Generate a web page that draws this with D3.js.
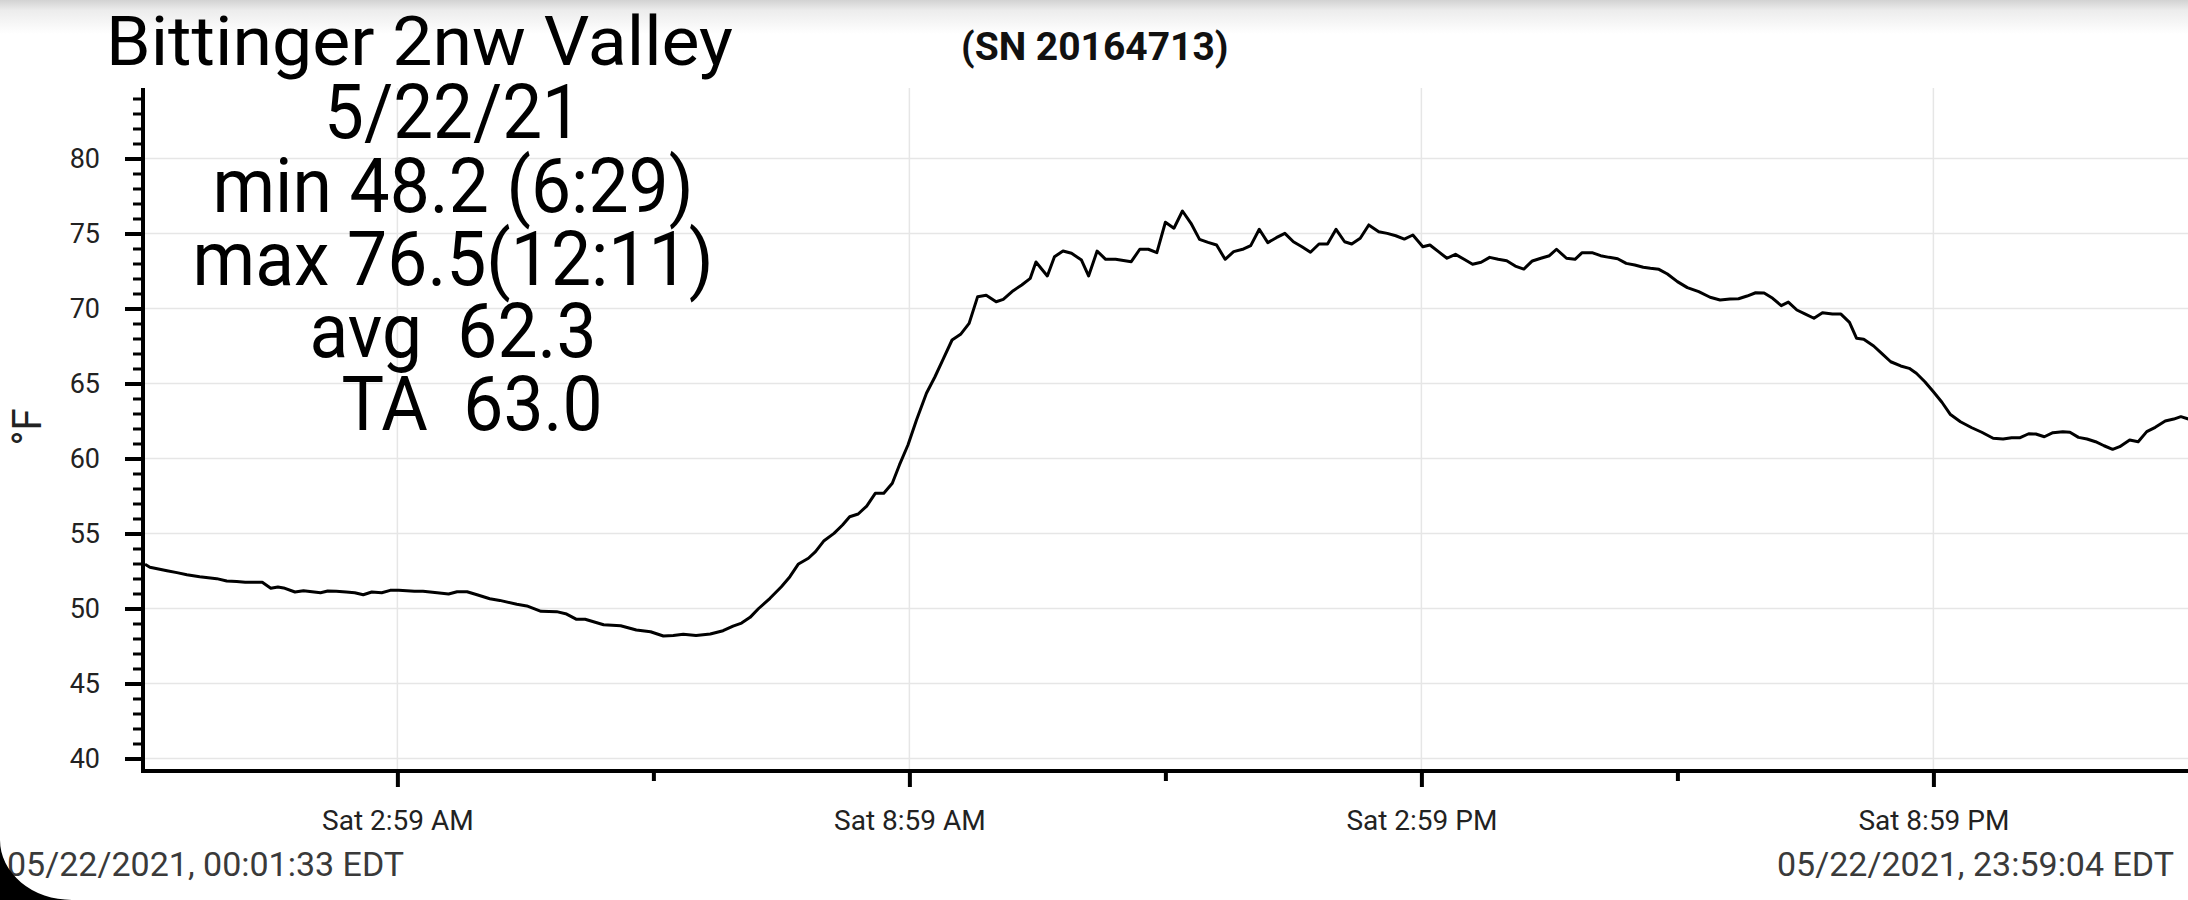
<!DOCTYPE html>
<html><head><meta charset="utf-8">
<script src="https://cdn.jsdelivr.net/npm/d3@7"></script>
<style>
html,body{margin:0;padding:0;background:#fff;overflow:hidden;}
svg{display:block;font-family:Roboto,"Noto Sans",sans-serif;}
</style></head><body>
<svg id="chart" width="2188" height="900"></svg>
<script>
// ---- data ----
const stationName = "Bittinger 2nw Valley";
const serialLabel = "(SN 20164713)";
const summaryLines = ["5/22/21", "min 48.2 (6:29)", "max 76.5(12:11)", "avg  62.3", "TA  63.0"];
const startLabel = "05/22/2021, 00:01:33 EDT";
const endLabel = "05/22/2021, 23:59:04 EDT";
const yAxisLabel = "°F";
const dayDate = "2021-05-22";
const startTime = "00:01:33";
const endTime = "23:59:04";

// minute of day of each reading
const minutes = [
  1.55,5,17,24,31,40,52,59,66,72,
  84,90,95,99,107,113,119,125,130,136,
  143,149,155,161,168,174,180,191,197,207,
  215,221,228,235,244,251,263,270,280,291,
  298,305,311,324,336,347,357,366,373,380,
  389,399,408,415,421,427,433,441,449,455,
  461,468,473,479,486,492,497,503,509,515,
  521,527,532,538,544,551,557,563,569,575,
  581,587,593,600,605,612,618,624,628,636,
  641,647,653,660,665,671,677,684,695,701,
  707,713,719,725,731,737,743,749,755,761,
  767,774,779,785,791,797,803,809,815,821,
  827,833,839,845,850,856,862,869,875,881,
  887,893,900,905,911,917,923,929,935,941,
  947,953,959,965,971,977,983,989,994,1001,
  1007,1012,1019,1025,1031,1037,1043,1049,1055,1060,
  1066,1072,1079,1086,1094,1102,1109,1116,1122,1128,
  1134,1140,1146,1152,1157,1163,1169,1175,1181,1188,
  1194,1200,1205,1210,1217,1223,1229,1236,1242,1247,
  1253,1259,1265,1271,1278,1286,1293,1301,1308,1314,
  1320,1326,1331,1337,1343,1350,1355,1361,1367,1373,
  1379,1385,1390,1397,1403,1409,1415,1422,1428,1433,
  1439.07
];
// temperature (°F) of each reading
const temps = [
  52.95,52.75,52.52,52.39,52.25,52.12,51.99,51.83,51.8,51.75,
  51.75,51.35,51.43,51.37,51.1,51.19,51.12,51.05,51.17,51.15,
  51.1,51.05,50.92,51.1,51.05,51.21,51.21,51.15,51.15,51.05,
  50.97,51.12,51.12,50.92,50.65,50.54,50.28,50.17,49.81,49.79,
  49.63,49.28,49.28,48.92,48.85,48.57,48.45,48.17,48.2,48.28,
  48.2,48.3,48.52,48.83,49.03,49.41,50.0,50.68,51.45,52.12,
  52.97,53.35,53.79,54.52,55.01,55.57,56.12,56.3,56.83,57.68,
  57.68,58.35,59.57,60.9,62.57,64.35,65.45,66.68,67.9,68.28,
  69.01,70.79,70.88,70.45,70.61,71.19,71.57,72.01,73.1,72.17,
  73.45,73.83,73.68,73.23,72.17,73.83,73.28,73.28,73.12,73.95,
  73.95,73.72,75.75,75.35,76.5,75.68,74.61,74.41,74.23,73.28,
  73.79,73.97,74.19,75.28,74.39,74.72,75.01,74.45,74.12,73.75,
  74.3,74.3,75.28,74.45,74.3,74.68,75.57,75.12,75.01,74.85,
  74.63,74.9,74.12,74.23,73.79,73.35,73.61,73.28,72.95,73.08,
  73.41,73.28,73.19,72.83,72.63,73.17,73.35,73.52,73.95,73.35,
  73.28,73.72,73.72,73.52,73.41,73.32,73.01,72.9,72.75,72.68,
  72.61,72.3,71.79,71.39,71.12,70.75,70.57,70.63,70.65,70.83,
  71.05,71.03,70.68,70.19,70.43,69.9,69.63,69.35,69.72,69.63,
  69.63,69.08,68.01,67.95,67.5,66.97,66.45,66.17,66.01,65.68,
  65.12,64.45,63.75,62.93,62.45,62.05,61.75,61.35,61.3,61.39,
  61.39,61.65,61.63,61.45,61.72,61.79,61.75,61.41,61.3,61.12,
  60.85,60.61,60.79,61.23,61.12,61.79,62.08,62.5,62.63,62.79,
  62.61
];

const yMajorTicks = [40, 45, 50, 55, 60, 65, 70, 75, 80];
const yMinorTicks = [41,42,43,44,46,47,48,49,51,52,53,54,56,57,58,59,61,62,63,64,66,67,68,69,71,72,73,74,76,77,78,79,81,82,83,84];
const xMajorTicks = ["02:59", "08:59", "14:59", "20:59"];
const xMinorTicks = ["05:59", "11:59", "17:59"];

// ---- drawing ----
const W = 2188, H = 900;
const svg = d3.select("#chart");
const parseFull = d3.timeParse("%Y-%m-%d %H:%M:%S");
const parseHM = d3.timeParse("%Y-%m-%d %H:%M");
const base = parseFull(dayDate + " 00:00:00");
const data = minutes.map((m, i) => ({ t: new Date(base.getTime() + m * 60000), v: temps[i] }));

const plotLeft = 145, plotTop = 88, axisY = 771, axisX = 143;
const x = d3.scaleTime()
  .domain([parseFull(dayDate + " " + startTime), parseFull(dayDate + " " + endTime)])
  .range([plotLeft, 2189.5]);
const y = d3.scaleLinear().domain([40, 80]).range([758.5, 158.5]);

const majorDates = xMajorTicks.map(s => parseHM(dayDate + " " + s));
const minorDates = xMinorTicks.map(s => parseHM(dayDate + " " + s));

// top shadow band
const defs = svg.append("defs");
const grad = defs.append("linearGradient").attr("id", "topShade").attr("x1", 0).attr("y1", 0).attr("x2", 0).attr("y2", 1);
grad.append("stop").attr("offset", "0").attr("stop-color", "#d2d2d2");
grad.append("stop").attr("offset", "0.3").attr("stop-color", "#ececec");
grad.append("stop").attr("offset", "1").attr("stop-color", "#ffffff");
svg.append("rect").attr("x", 0).attr("y", 0).attr("width", W).attr("height", 34).attr("fill", "url(#topShade)");

// grid
const grid = svg.append("g").attr("stroke", "#e6e6e6").attr("stroke-width", 1.5);
grid.selectAll("line.h").data(yMajorTicks).join("line").attr("class", "h")
  .attr("x1", plotLeft).attr("x2", W).attr("y1", d => y(d)).attr("y2", d => y(d));
grid.selectAll("line.v").data(majorDates).join("line").attr("class", "v")
  .attr("x1", d => x(d)).attr("x2", d => x(d)).attr("y1", plotTop).attr("y2", axisY);

// data line
svg.append("path").datum(data)
  .attr("fill", "none").attr("stroke", "#000").attr("stroke-width", 3)
  .attr("stroke-linejoin", "round")
  .attr("d", d3.line().x(d => x(d.t)).y(d => y(d.v)));

// y axis
const yMinor = svg.append("g").attr("transform", `translate(${axisX},0)`)
  .call(d3.axisLeft(y).tickValues(yMinorTicks).tickSize(10).tickFormat(""));
yMinor.select(".domain").remove();
yMinor.selectAll(".tick line").attr("stroke", "#000").attr("stroke-width", 3);

const yMajor = svg.append("g").attr("transform", `translate(${axisX},0)`)
  .call(d3.axisLeft(y).tickValues(yMajorTicks).tickSize(18).tickPadding(25));
yMajor.select(".domain").remove();
yMajor.selectAll(".tick line").attr("stroke", "#000").attr("stroke-width", 4);
yMajor.selectAll(".tick text").attr("font-size", 27).attr("fill", "#222")
  .attr("font-family", "Roboto, sans-serif");

svg.append("line").attr("x1", axisX).attr("x2", axisX).attr("y1", plotTop).attr("y2", axisY + 2)
  .attr("stroke", "#000").attr("stroke-width", 4);

// x axis
const xMinor = svg.append("g").attr("transform", `translate(0,${axisY})`)
  .call(d3.axisBottom(x).tickValues(minorDates).tickSize(10).tickFormat(""));
xMinor.select(".domain").remove();
xMinor.selectAll(".tick line").attr("stroke", "#000").attr("stroke-width", 4);

const xMajor = svg.append("g").attr("transform", `translate(0,${axisY})`)
  .call(d3.axisBottom(x).tickValues(majorDates).tickSize(16).tickPadding(23)
    .tickFormat(d3.timeFormat("%a %-I:%M %p")));
xMajor.select(".domain").remove();
xMajor.selectAll(".tick line").attr("stroke", "#000").attr("stroke-width", 4);
xMajor.selectAll(".tick text").attr("font-size", 28).attr("fill", "#222")
  .attr("font-family", "Roboto, sans-serif");

svg.append("line").attr("x1", axisX - 2).attr("x2", W).attr("y1", axisY).attr("y2", axisY)
  .attr("stroke", "#000").attr("stroke-width", 4);

// y axis title
svg.append("text").attr("transform", "translate(41,427) rotate(-90)")
  .attr("text-anchor", "middle").attr("font-size", 40).attr("fill", "#222").text(yAxisLabel);

// title and summary
svg.append("text").attr("x", 106).attr("y", 65).attr("font-size", 68).attr("fill", "#000")
  .attr("textLength", 627).attr("lengthAdjust", "spacingAndGlyphs").text(stationName);
svg.append("text").attr("x", 961).attr("y", 60).attr("font-size", 39).attr("font-weight", "bold")
  .attr("fill", "#111").text(serialLabel);

const summaryX = [453, 453, 453, 453, 472];
const summaryY = [138, 212, 285, 357, 430];
const summaryW = [258, 481, 521, 287, 261];
svg.append("g").selectAll("text").data(summaryLines).join("text")
  .attr("x", (d, i) => summaryX[i]).attr("y", (d, i) => summaryY[i])
  .attr("text-anchor", "middle").attr("font-size", 76).attr("fill", "#000")
  .attr("textLength", (d, i) => summaryW[i]).attr("lengthAdjust", "spacingAndGlyphs")
  .style("white-space", "pre").attr("xml:space", "preserve")
  .text(d => d);

// footer dates
svg.append("text").attr("x", 7).attr("y", 876).attr("font-size", 34).attr("fill", "#3a3a3a").text(startLabel);
svg.append("text").attr("x", 2174).attr("y", 876).attr("font-size", 34).attr("fill", "#3a3a3a")
  .attr("text-anchor", "end").text(endLabel);

// black rounded corner at bottom left
svg.append("path").attr("d", "M0,840 L0,900 L72,900 A72,60 0 0 1 0,840 Z").attr("fill", "#000");
</script>
</body></html>
